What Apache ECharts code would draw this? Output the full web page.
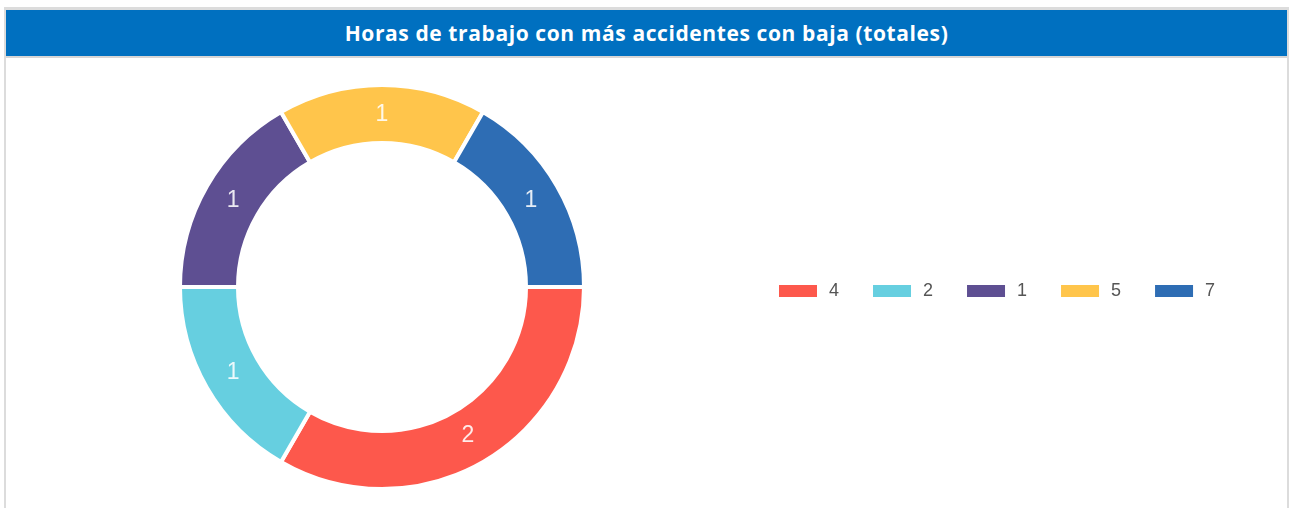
<!DOCTYPE html>
<html>
<head>
<meta charset="utf-8">
<script src="https://cdn.jsdelivr.net/npm/echarts@6/dist/echarts.min.js"></script>
<style>
html,body{margin:0;padding:0;background:#fff;}
#frame{position:absolute;left:4px;top:7px;width:1281px;height:520px;border:2px solid #dcdcdc;border-top-width:3px;border-bottom:none;}
#title{position:absolute;left:0;top:0;width:100%;height:46px;background:#0070C0;border-bottom:2px solid #d6d6d6;color:#fff;font-family:"Open Sans",sans-serif;font-weight:bold;font-size:21px;letter-spacing:0.6px;line-height:46px;text-align:center;}
#chart{position:absolute;left:0;top:0;width:1290px;height:508px;}
</style>
</head>
<body>
<div id="frame"><div id="title">Horas de trabajo con más accidentes con baja (totales)</div></div>
<div id="chart"></div>
<script>
const categories = ['4', '2', '1', '5', '7'];
const values = [2, 1, 1, 1, 1];
const colors = ['#FD584C', '#66CFE0', '#5E4F92', '#FFC54B', '#2E6DB4'];

const CENTER = [382, 287];
const chart = echarts.init(document.getElementById('chart'), null, {renderer: 'canvas'});
chart.setOption({
  animation: false,
  color: colors,
  legend: {
    orient: 'horizontal',
    left: 774,
    top: 277,
    itemWidth: 38,
    itemHeight: 12,
    itemGap: 34,
    icon: 'rect',
    itemStyle: {borderWidth: 0},
    textStyle: {fontFamily: '"Liberation Sans", Arial, sans-serif', fontSize: 18, color: '#555', padding: [0, 0, 0, 7]},
    data: categories
  },
  series: [{
    type: 'pie',
    center: CENTER,
    radius: [144, 202],
    startAngle: 0,
    clockwise: true,
    avoidLabelOverlap: false,
    itemStyle: {borderColor: '#fff', borderWidth: 4},
    label: {show: true, position: 'inside', formatter: '{c}', color: 'rgba(255,255,255,0.88)', fontFamily: '"Liberation Sans", Arial, sans-serif', fontSize: 23},
    labelLine: {show: false},
    labelLayout: function (p) {
      const lr = p.labelRect;
      const cx = lr.x + lr.width / 2, cy = lr.y + lr.height / 2;
      const dx = cx - CENTER[0], dy = cy - CENTER[1];
      const r = Math.sqrt(dx * dx + dy * dy), k = (r - 4) / r;
      return {x: CENTER[0] + dx * k, y: CENTER[1] + dy * k, align: 'center', verticalAlign: 'middle'};
    },
    emphasis: {disabled: true},
    data: categories.map((c, i) => ({name: c, value: values[i]}))
  }]
});
</script>
</body>
</html>
